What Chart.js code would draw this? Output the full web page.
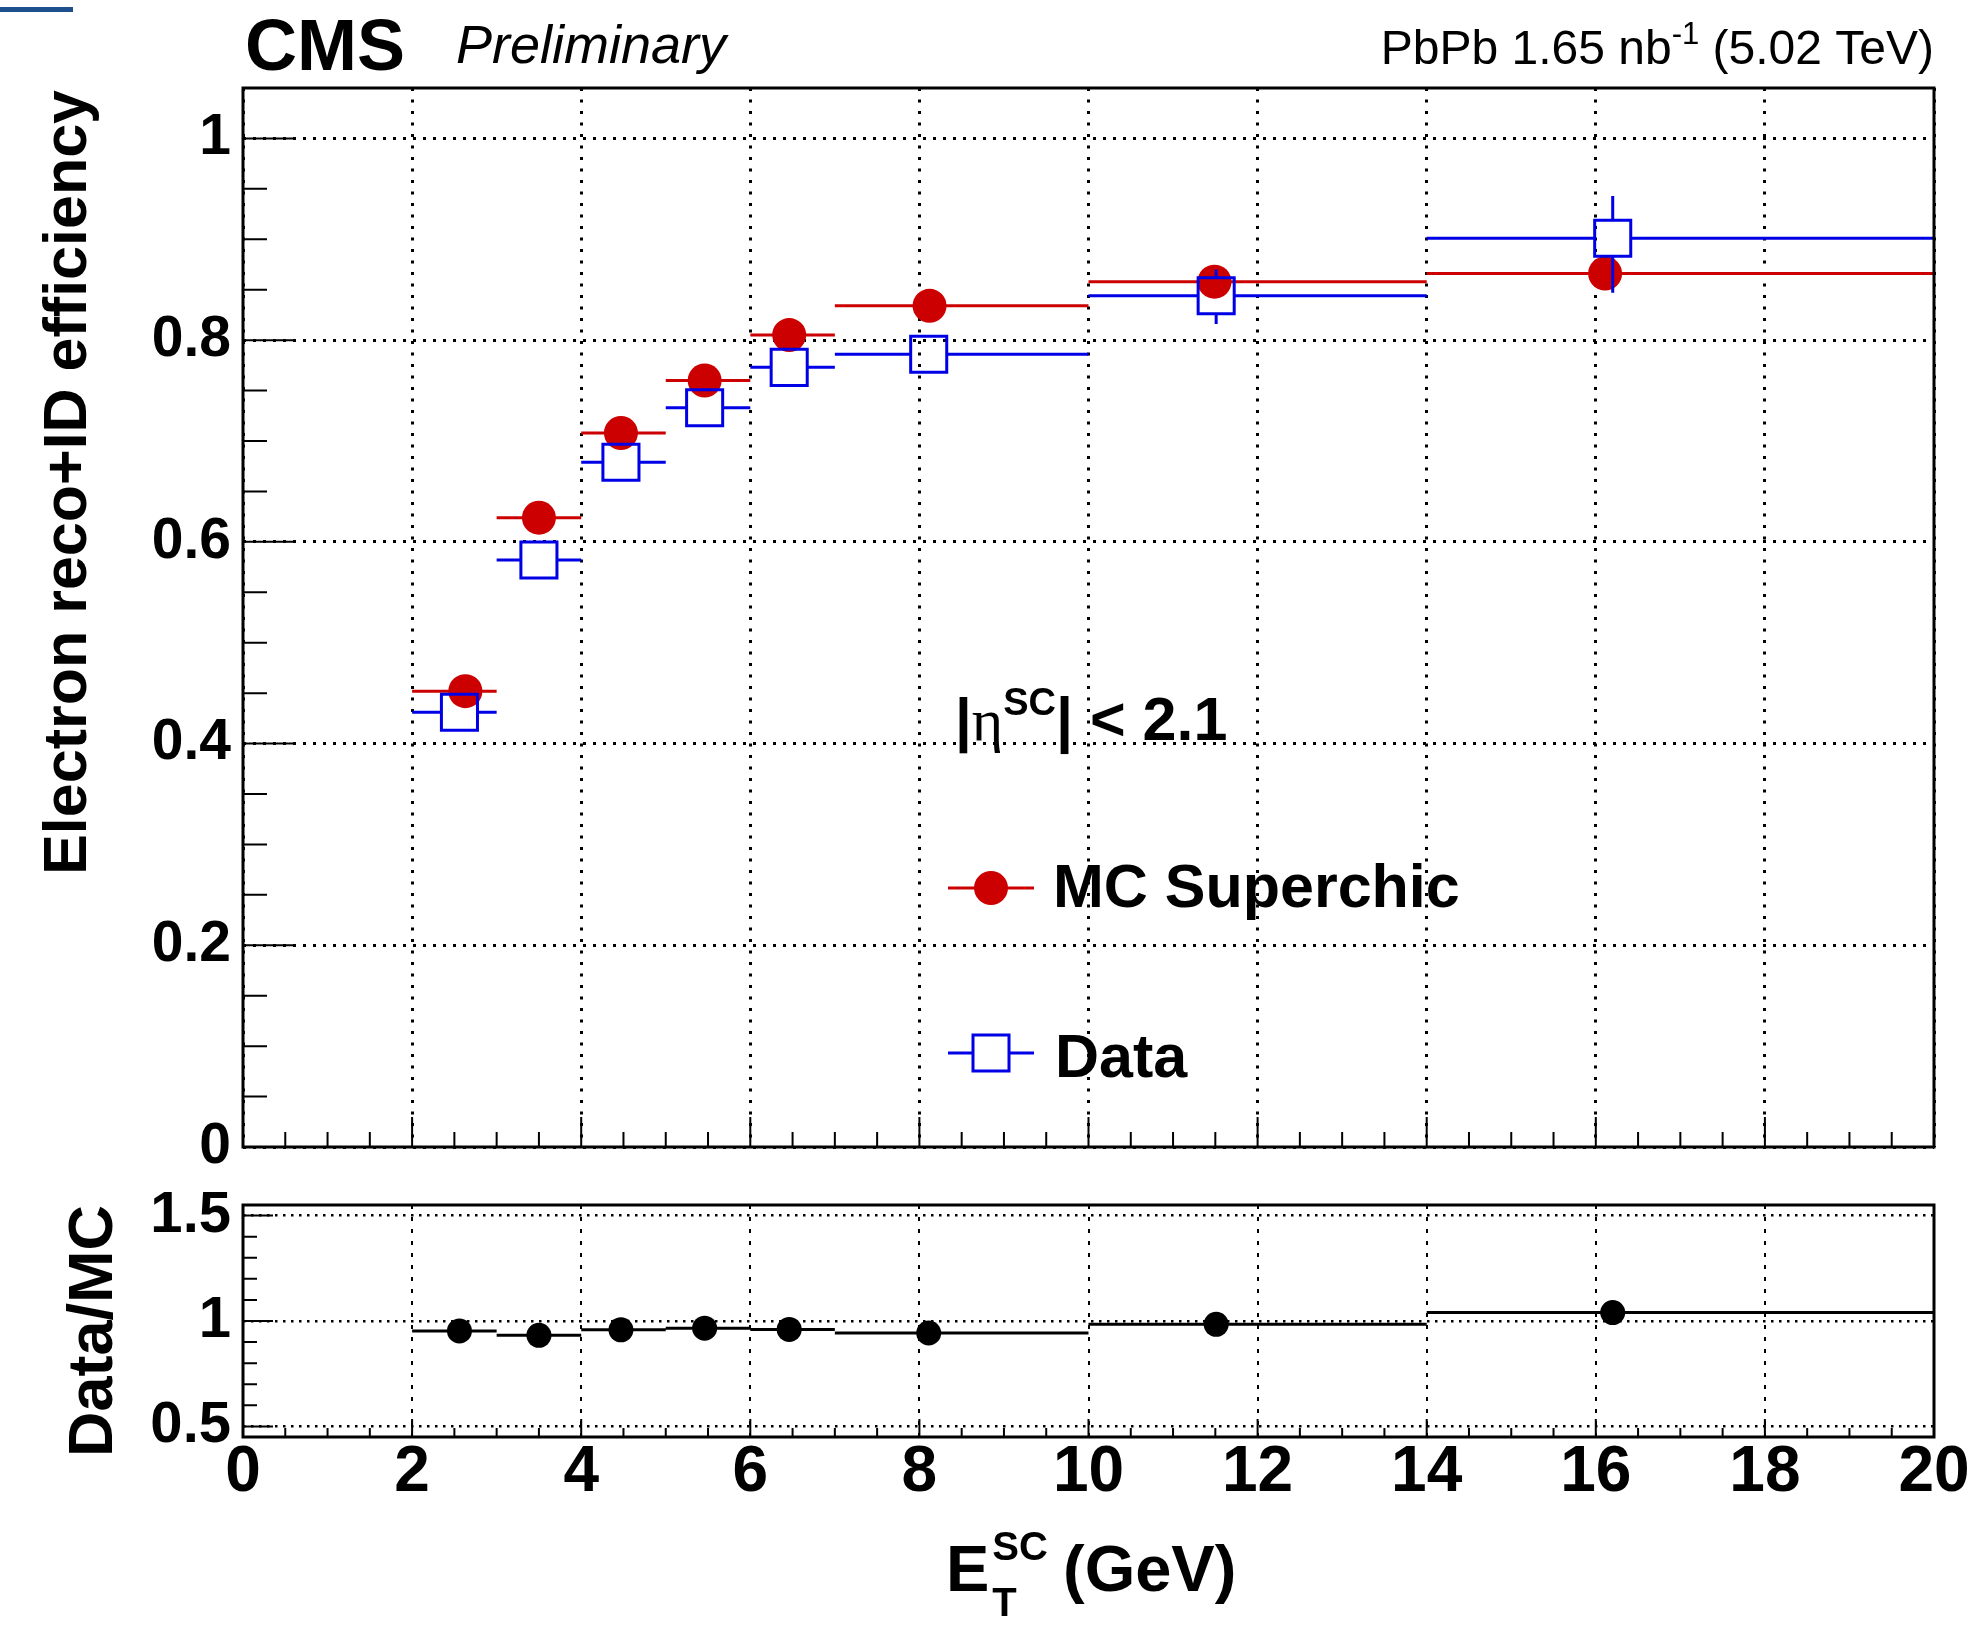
<!DOCTYPE html>
<html>
<head>
<meta charset="utf-8">
<script src="https://cdn.jsdelivr.net/npm/chart.js@4.4.1/dist/chart.umd.min.js"></script>
<style>
  html, body { margin: 0; padding: 0; background: #fff; }
  #wrap { position: relative; width: 1972px; height: 1628px; overflow: hidden; }
  #wrap canvas { position: absolute; left: 0; top: 0; }
  #tab { position: absolute; left: 0; top: 7px; width: 73px; height: 5px; background: #1d4f8c; }
</style>
</head>
<body>
<div id="wrap">
  <div id="tab"></div>
  <canvas id="effChart" width="1972" height="1628"></canvas>
  <canvas id="ratioChart" width="1972" height="1628"></canvas>
</div>
<script>
// E_T^SC bin edges (GeV)
const binLo = [2, 3, 4, 5, 6, 7, 10, 14];
const binHi = [3, 4, 5, 6, 7, 10, 14, 20];
// marker position inside each bin
const mcX   = [2.63, 3.50, 4.47, 5.46, 6.46, 8.12, 11.49, 16.11];
const dataX = [2.56, 3.50, 4.47, 5.46, 6.46, 8.11, 11.51, 16.20];
// reco+ID efficiency
const mcEff     = [0.452, 0.624, 0.708, 0.760, 0.805, 0.834, 0.858, 0.866];
const dataEff   = [0.431, 0.582, 0.679, 0.733, 0.773, 0.786, 0.844, 0.901];
const dataErrUp = [0.010, 0.010, 0.010, 0.010, 0.010, 0.010, 0.026, 0.042];
const dataErrDn = [0.010, 0.010, 0.010, 0.010, 0.010, 0.010, 0.028, 0.054];
// Data/MC
const ratio = [0.953, 0.932, 0.958, 0.966, 0.960, 0.943, 0.984, 1.040];

const xTicks     = [0, 2, 4, 6, 8, 10, 12, 14, 16, 18, 20];
const effTicks   = [0, 0.2, 0.4, 0.6, 0.8, 1];
const ratioTicks = [0.5, 1, 1.5];

const RED = '#cc0000';
const BLUE = '#0000e6';
const FONT = '"Liberation Sans", Arial, Helvetica, sans-serif';

// fixed axis box, no extra label padding
function fixAxis(size) {
  return s => {
    if (s.isHorizontal()) s.height = size; else s.width = size;
    s.paddingTop = s.paddingBottom = s.paddingLeft = s.paddingRight = 0;
  };
}
const useTicks = list => s => { s.ticks = list.map(value => ({ value })); };

// horizontal bin-width bars and vertical error bars, drawn under each dataset's markers
const errorBars = {
  id: 'errorBars',
  beforeDatasetDraw(chart, args) {
    const ds = chart.data.datasets[args.index];
    if (!ds.binLo) return;
    const { ctx, scales: { x, y } } = chart;
    const g = ds.errGap || 0;
    ctx.save();
    ctx.strokeStyle = ds.borderColor;
    ctx.lineWidth = ds.errWidth;
    ctx.beginPath();
    ds.data.forEach((p, i) => {
      const px = x.getPixelForValue(p.x), py = y.getPixelForValue(p.y);
      ctx.moveTo(x.getPixelForValue(ds.binLo[i]), py);
      ctx.lineTo(px - g, py);
      ctx.moveTo(px + g, py);
      ctx.lineTo(x.getPixelForValue(ds.binHi[i]), py);
      if (ds.errUp) {
        const up = y.getPixelForValue(p.y + ds.errUp[i]);
        const dn = y.getPixelForValue(p.y - ds.errDn[i]);
        if (py - up > g) { ctx.moveTo(px, py - g); ctx.lineTo(px, up); }
        if (dn - py > g) { ctx.moveTo(px, py + g); ctx.lineTo(px, dn); }
      }
    });
    ctx.stroke();
    ctx.restore();
  }
};

// frame box with inward major/minor ticks on the left and bottom
function tickValues(min, max, step) {
  const out = [];
  const first = Math.ceil(min / step - 1e-6);
  const last = Math.floor(max / step + 1e-6);
  for (let k = first; k <= last; k++) out.push(+(k * step).toFixed(6));
  return out;
}
const isMajor = (v, step) => Math.abs(v / step - Math.round(v / step)) < 1e-6;

const frame = {
  id: 'frame',
  afterDraw(chart, args, o) {
    const { ctx, chartArea: a, scales: { x, y } } = chart;
    ctx.save();
    ctx.strokeStyle = '#000';
    ctx.lineWidth = 2;
    ctx.beginPath();
    tickValues(x.min, x.max, o.xMinor).forEach(v => {
      const px = x.getPixelForValue(v);
      ctx.moveTo(px, a.bottom);
      ctx.lineTo(px, a.bottom - (isMajor(v, o.xMajor) ? o.xLen[0] : o.xLen[1]));
    });
    tickValues(y.min, y.max, o.yMinor).forEach(v => {
      const py = y.getPixelForValue(v);
      ctx.moveTo(a.left, py);
      ctx.lineTo(a.left + (isMajor(v, o.yMajor) ? o.yLen[0] : o.yLen[1]), py);
    });
    ctx.stroke();
    ctx.lineWidth = 3;
    ctx.strokeRect(a.left, a.top, a.right - a.left, a.bottom - a.top);
    ctx.restore();
  }
};

// text runs: [text, font, dy]
function drawRun(ctx, x, y, parts, align) {
  let w = 0;
  parts.forEach(([t, f]) => { ctx.font = f; w += ctx.measureText(t).width; });
  let cx = align === 'right' ? x - w : x;
  ctx.textAlign = 'left';
  ctx.textBaseline = 'alphabetic';
  parts.forEach(([t, f, dy = 0]) => {
    ctx.font = f;
    ctx.fillText(t, cx, y + dy);
    cx += ctx.measureText(t).width;
  });
}
function drawVertical(ctx, x, yTop, text, font) {
  ctx.save();
  ctx.translate(x, yTop);
  ctx.rotate(-Math.PI / 2);
  ctx.font = font;
  ctx.textAlign = 'right';
  ctx.textBaseline = 'alphabetic';
  ctx.fillText(text, 0, 0);
  ctx.restore();
}

const topLabels = {
  id: 'topLabels',
  afterDraw(chart) {
    const ctx = chart.ctx;
    const [mc, data] = chart.data.datasets;
    ctx.save();
    ctx.fillStyle = '#000';
    drawRun(ctx, 245, 70, [['CMS', `bold 72px ${FONT}`]]);
    drawRun(ctx, 456, 63, [['Preliminary', `italic 54px ${FONT}`]]);
    drawRun(ctx, 1934, 64, [
      ['PbPb 1.65 nb', `48px ${FONT}`],
      ['-1', `31px ${FONT}`, -20],
      [' (5.02 TeV)', `48px ${FONT}`]
    ], 'right');
    drawVertical(ctx, 86, 90, 'Electron reco+ID efficiency', `bold 61px ${FONT}`);

    drawRun(ctx, 955, 740, [
      ['|', `bold 60px ${FONT}`],
      ['\u03b7', `60px "Liberation Serif", serif`],
      ['SC', `bold 38px ${FONT}`, -25],
      ['| < 2.1', `bold 61px ${FONT}`]
    ]);

    // legend
    ctx.lineWidth = 3;
    ctx.strokeStyle = mc.borderColor;
    ctx.beginPath(); ctx.moveTo(948, 888); ctx.lineTo(1034, 888); ctx.stroke();
    ctx.fillStyle = mc.pointBackgroundColor;
    ctx.beginPath(); ctx.arc(991, 888, mc.pointRadius, 0, 2 * Math.PI); ctx.fill();
    ctx.strokeStyle = data.borderColor;
    ctx.beginPath();
    ctx.moveTo(948, 1053); ctx.lineTo(973, 1053);
    ctx.moveTo(1009, 1053); ctx.lineTo(1034, 1053);
    ctx.stroke();
    ctx.strokeRect(973, 1035, 36, 36);
    ctx.fillStyle = '#000';
    drawRun(ctx, 1053, 907, [[mc.label, `bold 61px ${FONT}`]]);
    drawRun(ctx, 1055, 1077, [[data.label, `bold 61px ${FONT}`]]);
    ctx.restore();
  }
};

const bottomLabels = {
  id: 'bottomLabels',
  afterDraw(chart) {
    const ctx = chart.ctx;
    ctx.save();
    ctx.fillStyle = '#000';
    drawVertical(ctx, 112, 1205, 'Data/MC', `bold 63px ${FONT}`);
    drawRun(ctx, 946, 1591, [['E', `bold 65px ${FONT}`]]);
    ctx.font = `bold 65px ${FONT}`;
    const ex = 946 + ctx.measureText('E').width + 3;
    drawRun(ctx, ex, 1560, [['SC', `bold 40px ${FONT}`]]);
    drawRun(ctx, ex, 1616, [['T', `bold 40px ${FONT}`]]);
    drawRun(ctx, 1063, 1591, [['(GeV)', `bold 65px ${FONT}`]]);
    ctx.restore();
  }
};

const gridStyle = { color: '#000', lineWidth: 3, drawTicks: false };

new Chart(document.getElementById('effChart'), {
  type: 'scatter',
  data: {
    datasets: [
      {
        label: 'MC Superchic',
        data: mcX.map((x, i) => ({ x, y: mcEff[i] })),
        pointStyle: 'circle',
        pointRadius: 17,
        pointBackgroundColor: RED,
        pointBorderWidth: 0,
        borderColor: RED,
        binLo, binHi,
        errWidth: 3,
        order: 2
      },
      {
        label: 'Data',
        data: dataX.map((x, i) => ({ x, y: dataEff[i] })),
        pointStyle: 'rect',
        pointRadius: 25.5,
        pointBackgroundColor: 'rgba(0,0,0,0)',
        pointBorderColor: BLUE,
        pointBorderWidth: 3,
        borderColor: BLUE,
        binLo, binHi,
        errUp: dataErrUp,
        errDn: dataErrDn,
        errWidth: 3,
        errGap: 18,
        order: 1
      }
    ]
  },
  options: {
    responsive: false,
    animation: false,
    devicePixelRatio: 1,
    events: [],
    layout: { padding: { left: 0, top: 88, right: 38, bottom: 0 } },
    plugins: {
      legend: { display: false },
      tooltip: { enabled: false },
      frame: { xMinor: 0.5, xMajor: 2, xLen: [30, 15], yMinor: 0.05, yMajor: 0.2, yLen: [50, 24] }
    },
    scales: {
      x: {
        type: 'linear', min: 0, max: 20,
        afterBuildTicks: useTicks(xTicks),
        afterFit: fixAxis(481),
        ticks: { display: false },
        grid: gridStyle,
        border: { display: false, dash: [3, 8.5] }
      },
      y: {
        type: 'linear', min: 0, max: 1.05,
        afterBuildTicks: useTicks(effTicks),
        afterFit: fixAxis(243),
        ticks: { color: '#000', padding: 12, font: { family: FONT, size: 57, weight: 'bold' }, callback: v => String(v) },
        grid: gridStyle,
        border: { display: false, dash: [3, 7] }
      }
    }
  },
  plugins: [errorBars, frame, topLabels]
});

new Chart(document.getElementById('ratioChart'), {
  type: 'scatter',
  data: {
    datasets: [
      {
        label: 'Data/MC',
        data: dataX.map((x, i) => ({ x, y: ratio[i] })),
        pointStyle: 'circle',
        pointRadius: 12.5,
        pointBackgroundColor: '#000',
        pointBorderWidth: 0,
        borderColor: '#000',
        binLo, binHi,
        errWidth: 3
      }
    ]
  },
  options: {
    responsive: false,
    animation: false,
    devicePixelRatio: 1,
    events: [],
    layout: { padding: { left: 0, top: 1205, right: 38, bottom: 0 } },
    plugins: {
      legend: { display: false },
      tooltip: { enabled: false },
      frame: { xMinor: 0.5, xMajor: 2, xLen: [18, 9], yMinor: 0.1, yMajor: 0.5, yLen: [30, 14] }
    },
    scales: {
      x: {
        type: 'linear', min: 0, max: 20,
        afterBuildTicks: useTicks(xTicks),
        afterFit: fixAxis(191),
        ticks: { color: '#000', padding: -2, font: { family: FONT, size: 64, weight: 'bold' }, maxRotation: 0, callback: v => String(v) },
        grid: { color: '#000', lineWidth: 2, drawTicks: false },
        border: { display: false, dash: [4, 8] }
      },
      y: {
        type: 'linear', min: 0.45, max: 1.55,
        afterBuildTicks: useTicks(ratioTicks),
        afterFit: fixAxis(243),
        ticks: { color: '#000', padding: 12, font: { family: FONT, size: 58, weight: 'bold' }, callback: v => String(v) },
        grid: { color: '#000', lineWidth: 2.5, drawTicks: false },
        border: { display: false, dash: [2.5, 5.5] }
      }
    }
  },
  plugins: [errorBars, frame, bottomLabels]
});
</script>
</body>
</html>
